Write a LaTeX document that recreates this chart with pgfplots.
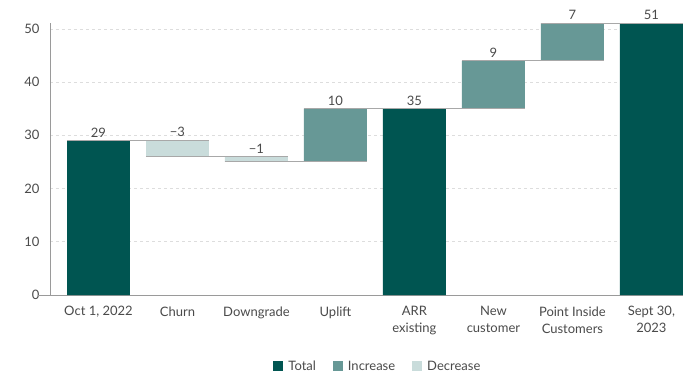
\documentclass[border=0pt]{standalone}
\usepackage{pgfplots}
\pgfplotsset{compat=1.18}
\usepackage{fontspec}
\setmainfont{Lato}
\definecolor{cTotal}{HTML}{005551}
\definecolor{cInc}{HTML}{679896}
\definecolor{cDec}{HTML}{C9DCDB}
\definecolor{cConn}{HTML}{A8A8A8}
\definecolor{cText}{HTML}{4A4A4A}
\definecolor{cAxis}{HTML}{9A9A9A}
\definecolor{cGrid}{HTML}{DDDDDD}
\begin{document}
\begin{tikzpicture}[font=\fontsize{13}{17}\selectfont]
\pgfplotsset{
  common/.style={scale only axis, width=633pt, height=271.5pt, xmin=-0.614, xmax=7.4, ymin=0, ymax=51},
}
\path[use as bounding box] (-50pt,-77pt) rectangle (633pt,295pt);
\begin{axis}[common, ybar stacked, bar width=0.797,
  axis x line=bottom, axis y line=left, axis line style={draw=cAxis, line width=0.9pt, -},
  xtick={0,...,7},
  xticklabels={{Oct 1, 2022}, Churn, Downgrade, Uplift, {ARR\\existing}, {New\\customer}, {Point Inside\\Customers}, {Sept 30,\\2023}},
  xticklabel style={align=center, yshift=-8pt, text=cText},
  ytick={0,10,...,50}, yticklabel style={xshift=-7pt, text=cText},
  major tick length=0pt,
  extra y ticks={0}, extra y tick labels={},
  extra y tick style={grid=none, tick align=outside, major tick length=12pt, tick style={draw=cAxis, line width=0.9pt}},
  ymajorgrids, grid style={dashed, cGrid, line width=0.6pt},
  /pgf/number format/assume math mode=true,
  legend style={at={(0.518,-0.262)}, anchor=center, draw=none, fill=none, legend columns=3, text=cText,
    /tikz/every odd column/.append style={column sep=3pt},
    /tikz/every even column/.append style={column sep=15pt}},
  legend image code/.code={\fill (0pt,-5pt) rectangle (10pt,5pt);},
]
\addplot[draw=none, fill=none, forget plot] coordinates {(0,0) (1,26) (2,25) (3,25) (4,0) (5,35) (6,44) (7,0)};
\addplot[draw=none, fill=cTotal] coordinates {(0,29) (1,0) (2,0) (3,0) (4,35) (5,0) (6,0) (7,51)};
\addplot[draw=none, fill=cInc] coordinates {(0,0) (1,0) (2,0) (3,10) (4,0) (5,9) (6,7) (7,0)};
\addplot[draw=none, fill=cDec] coordinates {(0,0) (1,3) (2,1) (3,0) (4,0) (5,0) (6,0) (7,0)};
\legend{Total, Increase, Decrease}
\end{axis}
\begin{axis}[common, hide axis, clip=false]
\addplot[cConn, line width=1pt] coordinates {(-0.4,29) (1.4,29)};
\addplot[cConn, line width=1pt] coordinates {(0.6,26) (2.4,26)};
\addplot[cConn, line width=1pt] coordinates {(1.6,25) (3.4,25)};
\addplot[cConn, line width=1pt] coordinates {(2.6,35) (4.4,35)};
\addplot[cConn, line width=1pt] coordinates {(3.6,35) (5.4,35)};
\addplot[cConn, line width=1pt] coordinates {(4.6,44) (6.4,44)};
\addplot[cConn, line width=1pt] coordinates {(5.6,51) (7.4,51)};
\addplot[draw=none, mark=none, nodes near coords, point meta=explicit symbolic,
  nodes near coords style={anchor=south, text=cText}]
  coordinates {(0,29) [29] (1,29) [−3] (2,26) [−1] (3,35) [10] (4,35) [35] (5,44) [9] (6,51) [7] (7,51) [51]};
\end{axis}
\end{tikzpicture}
\end{document}
